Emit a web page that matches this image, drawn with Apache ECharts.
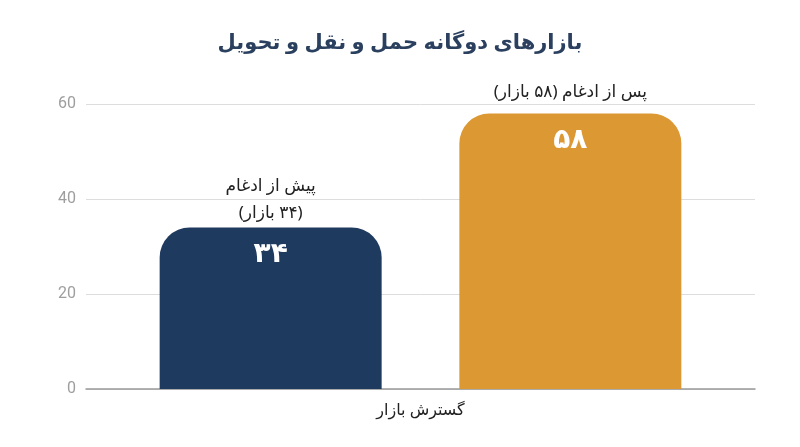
<!DOCTYPE html>
<html>
<head>
<meta charset="utf-8">
<style>
  html, body { margin: 0; padding: 0; background: #fff; }
  #chart { width: 800px; height: 447px; }
</style>
<script src="https://cdn.jsdelivr.net/npm/echarts@6/dist/echarts.min.js"></script>
</head>
<body>
<div id="chart" dir="rtl"></div>
<script>
// داده‌ها
var categories = ['گسترش بازار'];
var seriesNames = ['پیش از ادغام', 'پس از ادغام'];
var seriesValues = [34, 58];
var topLabels = ['پیش از ادغام\n(۳۴ بازار)', 'پس از ادغام (۵۸ بازار)'];
var barColors = ['#1f3a5f', '#dc9833'];
var yTicks = [0, 20, 40, 60];

var FONT = 'Noto Sans, DejaVu Sans, sans-serif';

// فاصله برچسب بالای هر ستون
var topLabelGap = [1, 8];

// تبدیل عدد به ارقام فارسی
function toPersian (n) {
    return String(n).replace(/\d/g, function (d) { return '۰۱۲۳۴۵۶۷۸۹'[d]; });
}

var series = seriesValues.map(function (v, i) {
    return {
        name: seriesNames[i],
        type: 'bar',
        data: [v],
        barWidth: 222,
        barGap: '35%',
        itemStyle: { color: barColors[i], borderRadius: [30, 30, 0, 0] },
        label: {
            show: true,
            position: 'insideTop',
            distance: 13,
            color: '#fff',
            fontSize: 28,
            fontWeight: 'bold',
            fontFamily: FONT,
            formatter: function (p) { return toPersian(p.value); }
        },
        markPoint: {
            symbol: 'circle',
            symbolSize: 0,
            silent: true,
            data: [{ coord: [0, v] }],
            label: {
                show: true,
                position: 'top',
                distance: topLabelGap[i],
                color: '#222',
                fontSize: 17,
                lineHeight: 27,
                fontFamily: FONT,
                formatter: function () { return topLabels[i]; }
            }
        }
    };
});

var option = {
    animation: false,
    title: {
        text: 'بازارهای دوگانه حمل و نقل و تحویل',
        left: 'center',
        top: 28,
        textStyle: { color: '#2b405f', fontSize: 21, fontWeight: 'bold', fontFamily: FONT }
    },
    grid: { left: 86, right: 45, top: 104, bottom: 58 },
    xAxis: {
        type: 'category',
        data: categories,
        axisTick: { show: false },
        axisLine: { lineStyle: { color: '#999', width: 1.5 } },
        axisLabel: { color: '#222', fontSize: 16, margin: 13, fontFamily: FONT }
    },
    yAxis: {
        type: 'value',
        min: yTicks[0],
        max: yTicks[yTicks.length - 1],
        interval: yTicks[1] - yTicks[0],
        axisLine: { show: false },
        axisTick: { show: false },
        axisLabel: { color: '#9e9e9e', fontSize: 16, margin: 10, fontFamily: 'Roboto, sans-serif' },
        splitLine: { lineStyle: { color: '#ddd' } }
    },
    series: series
};

var chart = echarts.init(document.getElementById('chart'));
chart.setOption(option);
</script>
</body>
</html>
